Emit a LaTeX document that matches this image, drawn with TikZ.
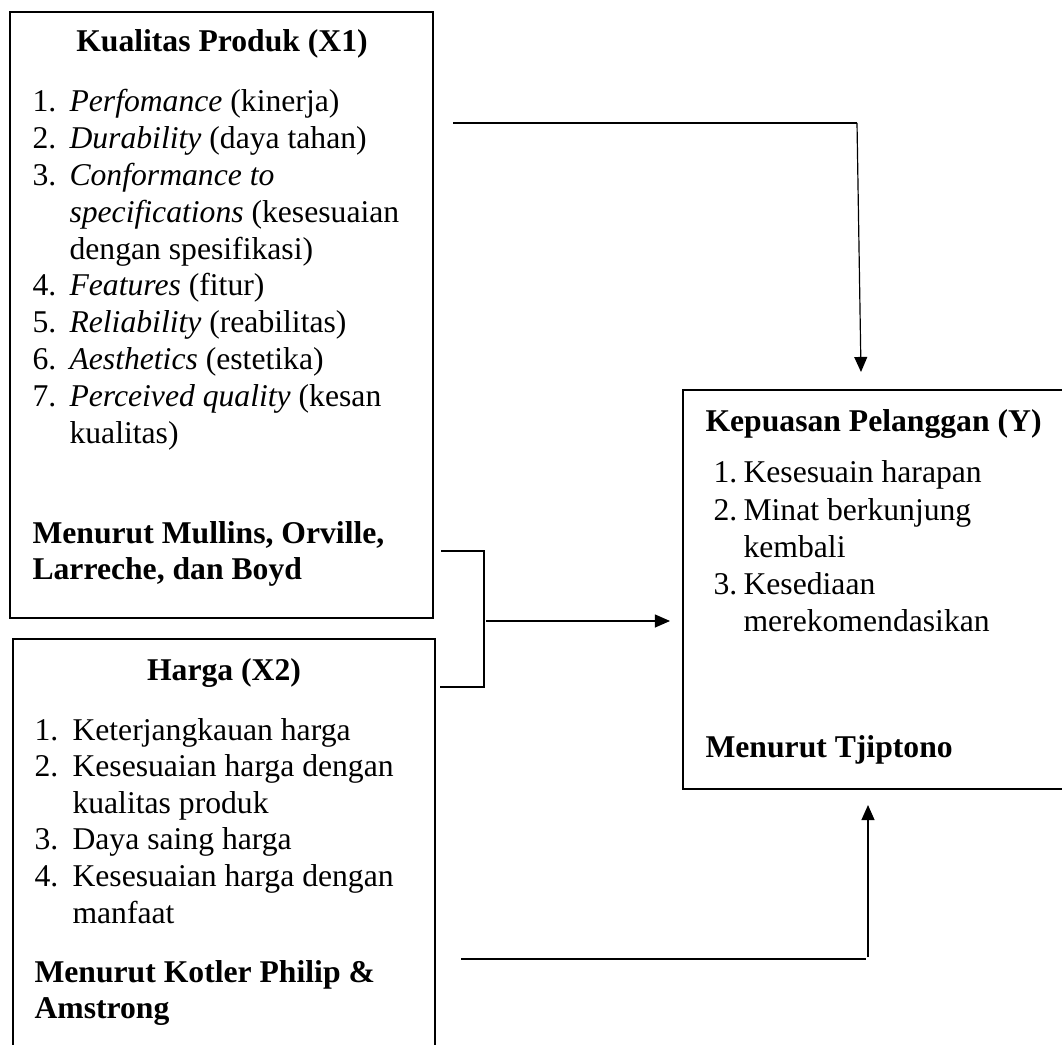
\documentclass[tikz,border=0pt]{standalone}
\usepackage{fontspec}
\setmainfont{Liberation Serif}
\usetikzlibrary{arrows.meta,positioning,fit}
\tikzset{
  varbox/.style={draw=black, line width=1pt, inner sep=0pt},
  boxhead/.style={font=\bfseries, anchor=base, inner sep=0pt},
  boxsrc/.style={font=\bfseries, anchor=base west, inner sep=0pt},
  boxitem/.style={anchor=base west, inner sep=0pt},
  link/.style={line width=0.5pt, draw=black},
  arrow/.style={-{Triangle[length=5.7pt,width=4.9pt]}, line width=0.45pt, draw=black}
}
\begin{document}
\fontsize{12}{13.9}\selectfont
\begin{tikzpicture}[x=0.379pt,y=-0.379pt]
  \useasboundingbox (0,0) rectangle (1062,1045);

  % Kualitas Produk (X1)
  \coordinate (x1a) at (10,12);
  \coordinate (x1b) at (433,618);
  \node[varbox, fit=(x1a)(x1b)] (x1) {};
  \node[boxhead] (x1head) at (222,52) {Kualitas Produk (X1)};
  \foreach \k/\num/\lab in {0/1./{\textit{Perfomance} (kinerja)},
      1/2./{\textit{Durability} (daya tahan)}, 2/3./{\textit{Conformance to}},
      3//{\textit{specifications} (kesesuaian}, 4//{dengan spesifikasi)},
      5/4./{\textit{Features} (fitur)}, 6/5./{\textit{Reliability} (reabilitas)},
      7/6./{\textit{Aesthetics} (estetika)}, 8/7./{\textit{Perceived quality} (kesan},
      9//{kualitas)}} {
    \node[boxitem] (x1n\k) at (32,{112+36.8*\k}) {\num};
    \node[boxitem] (x1t\k) at (69,{112+36.8*\k}) {\lab};
  }
  \node[boxsrc] (x1src1) at (32,543) {Menurut Mullins, Orville,};
  \node[boxsrc] (x1src2) at (32,579) {Larreche, dan Boyd};

  % Harga (X2)
  \coordinate (x2a) at (13,639);
  \coordinate (x2b) at (435,1080);
  \node[varbox, fit=(x2a)(x2b)] (x2) {};
  \node[boxhead] (x2head) at (224,680) {Harga (X2)};
  \foreach \k/\num/\lab in {0/1./{Keterjangkauan harga}, 1/2./{Kesesuaian harga dengan},
      2//{kualitas produk}, 3/3./{Daya saing harga}, 4/4./{Kesesuaian harga dengan},
      5//{manfaat}} {
    \node[boxitem] (x2n\k) at (34,{740+36.6*\k}) {\num};
    \node[boxitem] (x2t\k) at (72,{740+36.6*\k}) {\lab};
  }
  \node[boxsrc] (x2src1) at (34,982) {Menurut Kotler Philip \&};
  \node[boxsrc] (x2src2) at (34,1018) {Amstrong};

  % Kepuasan Pelanggan (Y)
  \coordinate (ya) at (683,390);
  \coordinate (yb) at (1090,789);
  \node[varbox, fit=(ya)(yb)] (y) {};
  \node[boxsrc] (yhead) at (705,432) {Kepuasan Pelanggan (Y)};
  \foreach \k/\num/\lab in {0/1./{Kesesuain harapan}, 1/2./{Minat berkunjung},
      2//{kembali}, 3/3./{Kesediaan}, 4//{merekomendasikan}} {
    \node[boxitem] (yn\k) at (713,{483+37*\k}) {\num};
    \node[boxitem] (yt\k) at (743,{483+37*\k}) {\lab};
  }
  \node[boxsrc] (ysrc) at (705,757) {Menurut Tjiptono};

  % X1 -> Y
  \coordinate (t1) at (453,123);
  \coordinate (t2) at (857,123);
  \coordinate (t3) at (861,372);
  \draw[link, line width=0.65pt] (t1) -- (t2);
  \draw[arrow] (t2) -- (t3);

  % X1 + X2 -> Y
  \coordinate (b1) at (441,551);
  \coordinate (b2) at (484,551);
  \coordinate (b3) at (484,687);
  \coordinate (b4) at (440,687);
  \draw[link] (b1) -- (b2) -- (b3) -- (b4);
  \coordinate (m1) at (486,621);
  \coordinate (m2) at (670,621);
  \draw[arrow] (m1) -- (m2);

  % X2 -> Y
  \coordinate (u1) at (461,959);
  \coordinate (u2) at (866,959);
  \coordinate (u3) at (868,957);
  \coordinate (u4) at (868,805);
  \draw[link, line width=0.65pt] (u1) -- (u2);
  \draw[arrow, line width=0.55pt] (u3) -- (u4);
\end{tikzpicture}
\end{document}
